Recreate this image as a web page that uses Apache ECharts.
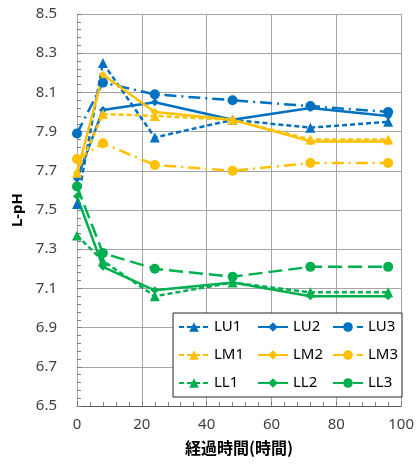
<!DOCTYPE html>
<html>
<head>
<meta charset="utf-8">
<script src="https://cdn.jsdelivr.net/npm/echarts@6/dist/echarts.min.js"></script>
<style>html,body{margin:0;padding:0;background:#fff}#c{width:417px;height:464px}</style>
</head>
<body>
<div id="c"></div>
<script>
const hours = [0, 8, 24, 48, 72, 96];
const seriesNames = ['LU1','LU2','LU3','LM1','LM2','LM3','LL1','LL2','LL3'];
const LU1 = [7.53, 8.25, 7.87, 7.96, 7.92, 7.95];
const LU2 = [7.66, 8.01, 8.05, 7.96, 8.02, 7.98];
const LU3 = [7.89, 8.15, 8.09, 8.06, 8.03, 8.00];
const LM1 = [7.69, 7.99, 7.98, 7.96, 7.86, 7.86];
const LM2 = [7.69, 8.19, 8.00, 7.96, 7.85, 7.85];
const LM3 = [7.76, 7.84, 7.73, 7.70, 7.74, 7.74];
const LL1 = [7.37, 7.24, 7.06, 7.13, 7.08, 7.08];
const LL2 = [7.57, 7.21, 7.09, 7.13, 7.06, 7.06];
const LL3 = [7.62, 7.28, 7.20, 7.16, 7.21, 7.21];
const xTicks = [0, 20, 40, 60, 80, 100];
const yTicks = [6.5, 6.7, 6.9, 7.1, 7.3, 7.5, 7.7, 7.9, 8.1, 8.3, 8.5];

const values = {LU1, LU2, LU3, LM1, LM2, LM3, LL1, LL2, LL3};
const BLUE = '#0070C0', YEL = '#FFC000', GRN = '#00B050';
const colorOf = n => n[1] === 'U' ? BLUE : (n[1] === 'M' ? YEL : GRN);
const styleOf = n => {
  const k = n[2];
  if (k === '1') return {type: [5, 3], symbol: 'triangle', size: 10};
  if (k === '2') return {type: 'solid', symbol: 'diamond', size: 8};
  if (n === 'LL3') return {type: [14, 6], symbol: 'circle', size: 10};
  return {type: [12, 5, 2, 5], symbol: 'circle', size: 10};
};

const series = seriesNames.map(n => {
  const s = styleOf(n), c = colorOf(n);
  return {
    name: n, type: 'line',
    data: hours.map((h, i) => [h, values[n][i]]),
    symbol: s.symbol, symbolSize: s.size,
    itemStyle: {color: c},
    lineStyle: {color: c, width: 2.5, type: s.type},
    z: 2
  };
});

const legendBase = {
  orient: 'vertical', top: 319, itemWidth: 30, itemHeight: 12, itemGap: 12,
  padding: 0,
  textStyle: {fontFamily: 'Noto Sans', fontSize: 15, color: '#000', lineHeight: 16},
  z: 5
};

const chart = echarts.init(document.getElementById('c'), null, {renderer: 'canvas'});
chart.setOption({
  animation: false,
  backgroundColor: '#fff',
  grid: {left: 77, right: 15, top: 14, bottom: 58},
  xAxis: {
    type: 'value', min: xTicks[0], max: xTicks[xTicks.length - 1], interval: 20,
    name: '経過時間(時間)', nameLocation: 'middle', nameGap: 34,
    nameTextStyle: {fontFamily: 'Noto Sans CJK JP', fontSize: 16, fontWeight: 'bold', color: '#000'},
    axisLine: {lineStyle: {color: '#595959', width: 1}},
    axisTick: {show: true, inside: true, length: 5, lineStyle: {color: '#7f7f7f'}},
    minorTick: {show: true, splitNumber: 5, length: 4, lineStyle: {color: '#7f7f7f'}},
    axisLabel: {fontFamily: 'Noto Sans', fontSize: 15, color: '#404040', margin: 11},
    splitLine: {show: true, lineStyle: {color: '#a6a6a6', width: 1}}
  },
  yAxis: {
    type: 'value', min: yTicks[0], max: yTicks[yTicks.length - 1], interval: 0.2,
    name: 'L-pH', nameLocation: 'middle', nameGap: 48,
    nameTextStyle: {fontFamily: 'Noto Sans', fontSize: 15, fontWeight: 'bold', color: '#000'},
    axisLine: {show: true, lineStyle: {color: '#a6a6a6', width: 1}},
    axisTick: {show: true, inside: true, length: 5, lineStyle: {color: '#7f7f7f'}},
    minorTick: {show: true, splitNumber: 5, length: 4, lineStyle: {color: '#7f7f7f'}},
    axisLabel: {fontFamily: 'Noto Sans', fontSize: 15, color: '#404040', margin: 20,
      formatter: v => v.toFixed(1)},
    splitLine: {show: true, lineStyle: {color: '#a6a6a6', width: 1}}
  },
  graphic: [{
    type: 'rect', z: 4,
    shape: {x: 173, y: 313, width: 229, height: 84},
    style: {fill: '#fff', stroke: '#262626', lineWidth: 1}
  }],
  legend: [
    Object.assign({}, legendBase, {left: 178, data: ['LU1', 'LM1', 'LL1']}),
    Object.assign({}, legendBase, {left: 257, data: ['LU2', 'LM2', 'LL2']}),
    Object.assign({}, legendBase, {left: 332, data: ['LU3', 'LM3', 'LL3']})
  ],
  series: series
});
</script>
</body>
</html>
